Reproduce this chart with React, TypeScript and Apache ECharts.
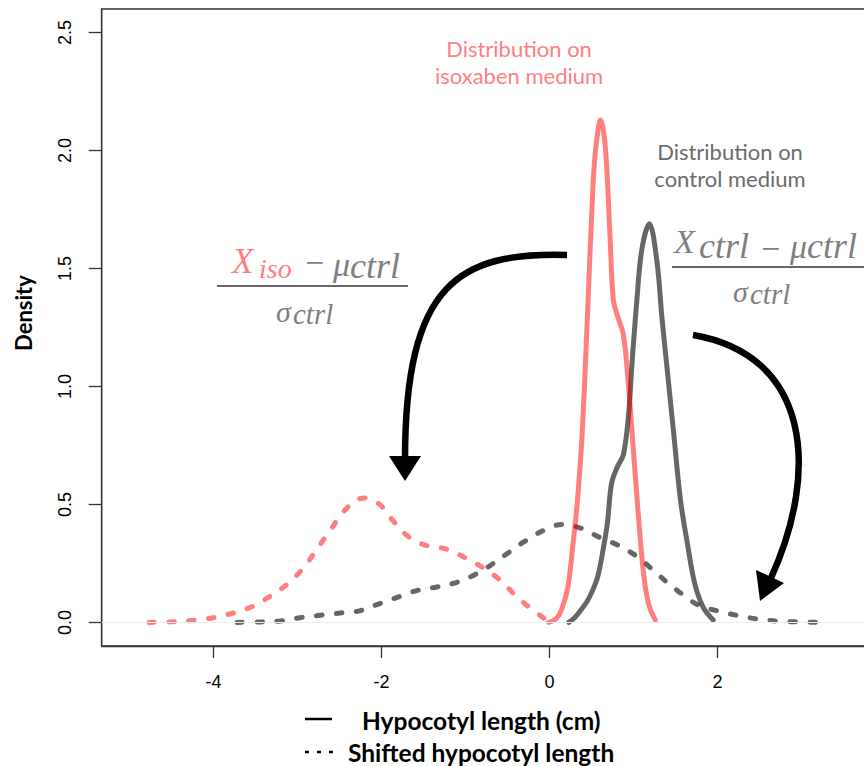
import React, { useEffect, useRef } from "react";
import * as echarts from "echarts";

// ---- data ----
const isoX = [-0.01, 0.08, 0.15, 0.22, 0.28, 0.33, 0.39, 0.46, 0.52, 0.555, 0.61, 0.665, 0.72, 0.76, 0.81, 0.88, 0.94, 1.0, 1.06, 1.12, 1.18, 1.26];
const isoY = [0.0, 0.015, 0.06, 0.15, 0.33, 0.5, 0.8, 1.36, 1.86, 2.02, 2.13, 2.02, 1.65, 1.37, 1.3, 1.22, 1.01, 0.73, 0.45, 0.21, 0.08, 0.01];

const ctrlX = [0.23, 0.3, 0.37, 0.45, 0.52, 0.58, 0.64, 0.69, 0.74, 0.81, 0.88, 0.94, 0.98, 1.04, 1.1, 1.19, 1.28, 1.34, 1.4, 1.48, 1.56, 1.64, 1.73, 1.83, 1.95];
const ctrlY = [0.0, 0.02, 0.05, 0.09, 0.14, 0.2, 0.31, 0.42, 0.59, 0.66, 0.71, 0.87, 1.08, 1.36, 1.58, 1.69, 1.53, 1.29, 1.08, 0.8, 0.52, 0.34, 0.165, 0.065, 0.01];

const isoShiftX = [-4.77, -4.48, -4.2, -4.0, -3.76, -3.52, -3.33, -3.13, -2.93, -2.77, -2.61, -2.45, -2.29, -2.19, -2.02, -1.86, -1.7, -1.5, -1.22, -0.98, -0.78, -0.59, -0.39, -0.19, -0.03];
const isoShiftY = [0.0, 0.003, 0.01, 0.02, 0.04, 0.07, 0.11, 0.16, 0.23, 0.31, 0.39, 0.47, 0.52, 0.527, 0.5, 0.43, 0.37, 0.33, 0.31, 0.27, 0.23, 0.18, 0.11, 0.05, 0.01];

const ctrlShiftX = [-3.72, -3.44, -3.2, -2.97, -2.73, -2.49, -2.25, -2.02, -1.78, -1.58, -1.34, -1.1, -0.9, -0.71, -0.51, -0.31, -0.07, 0.15, 0.37, 0.6, 0.8, 1.04, 1.24, 1.4, 1.6, 1.79, 1.99, 2.23, 2.47, 2.75, 3.22];
const ctrlShiftY = [0.0, 0.002, 0.006, 0.02, 0.03, 0.04, 0.05, 0.08, 0.11, 0.135, 0.15, 0.17, 0.2, 0.24, 0.29, 0.34, 0.39, 0.415, 0.4, 0.36, 0.33, 0.28, 0.22, 0.17, 0.115, 0.07, 0.05, 0.03, 0.015, 0.005, 0.0];

const xTicks = [-4, -2, 0, 2];
const yTicks = [0, 0.5, 1, 1.5, 2, 2.5];

const PINK = "rgba(255,0,0,0.5)";
const GREY = "rgba(0,0,0,0.6)";
const PINK_TXT = "#ff7f7f";
const GREY_TXT = "#6b6b6b";
const FORM_GREY = "#7f7f7f";
const SANS = "Lato";
const SERIF = '"Liberation Serif"';

const zip = (xs: number[], ys: number[]) => xs.map((x, i) => [x, ys[i]]);

function txt(x: number, y: number, text: string, font: string, fill: string, align = "left", valign = "middle", rotation = 0) {
  const style: any = { text, font, fill, align, verticalAlign: valign, textAlign: align, textVerticalAlign: valign };
  return { type: "text", x, y, rotation, silent: true, style };
}

export default function App() {
  const ref = useRef<HTMLDivElement>(null);
  useEffect(() => {
    if (!ref.current) return;
    const chart = echarts.init(ref.current, null, { renderer: "svg" });
    const lineBase = (color: string, dashed: boolean) => ({
      type: "line",
      showSymbol: false,
      symbol: "none",
      smooth: 0.35,
      silent: true,
      lineStyle: {
        color,
        width: 5,
        cap: "round",
        join: "round",
        type: dashed ? [5.5, 14.5] : "solid",
      },
    });
    const option: any = {
      animation: false,
      backgroundColor: "#ffffff",
      grid: {
        left: 101.7,
        top: 9,
        right: 14.6,
        bottom: 120,
        show: true,
        borderColor: "#333",
        borderWidth: 1.3,
        backgroundColor: "transparent",
        containLabel: false,
        outerBoundsMode: "none",
      },
      xAxis: {
        type: "value",
        min: -5.33,
        max: 4.0,
        splitLine: { show: false },
        axisLine: { show: true, onZero: false, lineStyle: { color: "#333", width: 1.3 } },
        axisTick: { show: true, length: 12, customValues: xTicks, lineStyle: { color: "#333", width: 1.3 } },
        axisLabel: {
          customValues: xTicks,
          fontFamily: "Liberation Sans",
          fontSize: 18,
          color: "#000",
          margin: 27,
        },
      },
      yAxis: {
        type: "value",
        min: -0.1,
        max: 2.6,
        splitLine: { show: false },
        axisLine: { show: true, onZero: false, lineStyle: { color: "#333", width: 1.3 } },
        axisTick: { show: true, length: 13, customValues: yTicks, lineStyle: { color: "#333", width: 1.3 } },
        axisLabel: {
          customValues: yTicks,
          rotate: 90,
          fontFamily: "Liberation Sans",
          fontSize: 18,
          color: "#000",
          margin: 28,
          formatter: (v: number) => v.toFixed(1),
        },
      },
      series: [
        {
          type: "line",
          data: [],
          silent: true,
          markLine: {
            silent: true,
            symbol: "none",
            label: { show: false },
            lineStyle: { color: "#ededed", width: 1, type: "solid" },
            data: [{ yAxis: 0 }],
          },
        },
        { ...lineBase(GREY, true), data: zip(ctrlShiftX, ctrlShiftY) },
        { ...lineBase(PINK, true), data: zip(isoShiftX, isoShiftY) },
        { ...lineBase(GREY, false), data: zip(ctrlX, ctrlY) },
        { ...lineBase(PINK, false), data: zip(isoX, isoY) },
      ],
      graphic: [
        // y axis title
        txt(23, 313, "Density", `bold 22px ${SANS}`, "#000", "center", "middle", Math.PI / 2),
        // annotations (two lines each)
        txt(519, 48.5, "Distribution on", `22px ${SANS}`, PINK_TXT, "center"),
        txt(519, 75.5, "isoxaben medium", `22px ${SANS}`, PINK_TXT, "center"),
        txt(730, 151.5, "Distribution on", `22px ${SANS}`, GREY_TXT, "center"),
        txt(730, 178.5, "control medium", `22px ${SANS}`, GREY_TXT, "center"),
        // formula 1
        txt(232, 261, "X", `italic 35px ${SERIF}`, PINK_TXT),
        txt(259, 268, "iso", `italic 28px ${SERIF}`, PINK_TXT),
        txt(305, 262, "\u2212", `34px ${SERIF}`, FORM_GREY),
        txt(333, 264, "\u03bc", `italic 34px ${SERIF}`, FORM_GREY),
        txt(350, 266, "ctrl", `italic 36px ${SERIF}`, FORM_GREY),
        { type: "line", silent: true, shape: { x1: 217, y1: 286, x2: 408, y2: 286 }, style: { stroke: "#333", lineWidth: 1.3 } },
        txt(276, 311, "\u03c3", `italic 30px ${SERIF}`, FORM_GREY),
        txt(293, 314, "ctrl", `italic 29px ${SERIF}`, FORM_GREY),
        // formula 2
        txt(674, 241, "X", `italic 34px ${SERIF}`, FORM_GREY),
        txt(699, 246, "ctrl", `italic 36px ${SERIF}`, FORM_GREY),
        txt(761, 248, "\u2212", `34px ${SERIF}`, FORM_GREY),
        txt(790, 246, "\u03bc", `italic 34px ${SERIF}`, FORM_GREY),
        txt(807, 246, "ctrl", `italic 36px ${SERIF}`, FORM_GREY),
        { type: "line", silent: true, shape: { x1: 672, y1: 267, x2: 870, y2: 267 }, style: { stroke: "#333", lineWidth: 1.3 } },
        txt(733, 291, "\u03c3", `italic 30px ${SERIF}`, FORM_GREY),
        txt(750, 294, "ctrl", `italic 29px ${SERIF}`, FORM_GREY),
        // arrows
        {
          type: "bezierCurve",
          silent: true,
          shape: { x1: 567, y1: 255, cpx1: 460, cpy1: 252, cpx2: 405, cpy2: 282, x2: 405, y2: 460 },
          style: { stroke: "#000", lineWidth: 6.5, fill: "none" },
        },
        { type: "polygon", silent: true, shape: { points: [[389, 456], [421, 456], [405, 481]] }, style: { fill: "#000" } },
        {
          type: "bezierCurve",
          silent: true,
          shape: { x1: 693, y1: 335, cpx1: 810, cpy1: 355, cpx2: 820, cpy2: 470, x2: 771, y2: 578 },
          style: { stroke: "#000", lineWidth: 6.5, fill: "none" },
        },
        { type: "polygon", silent: true, shape: { points: [[756, 570], [784, 583], [760, 601]] }, style: { fill: "#000" } },
        // legend
        { type: "line", silent: true, shape: { x1: 305, y1: 719, x2: 332, y2: 719 }, style: { stroke: "#000", lineWidth: 2.5 } },
        txt(362, 720, "Hypocotyl length (cm)", `bold 24.5px ${SANS}`, "#000"),
        { type: "line", silent: true, shape: { x1: 305, y1: 752, x2: 333, y2: 752 }, style: { stroke: "#000", lineWidth: 2.5, lineDash: [4, 8] } },
        txt(348, 752, "Shifted hypocotyl length", `bold 24.5px ${SANS}`, "#000"),
      ],
    };
    chart.setOption(option);
    return () => chart.dispose();
  }, []);
  return (
    <div style={{ position: "fixed", left: 0, top: 0, width: 864, height: 766, overflow: "hidden", background: "#fff" }}>
      <div ref={ref} style={{ width: 900, height: 766 }} />
    </div>
  );
}
